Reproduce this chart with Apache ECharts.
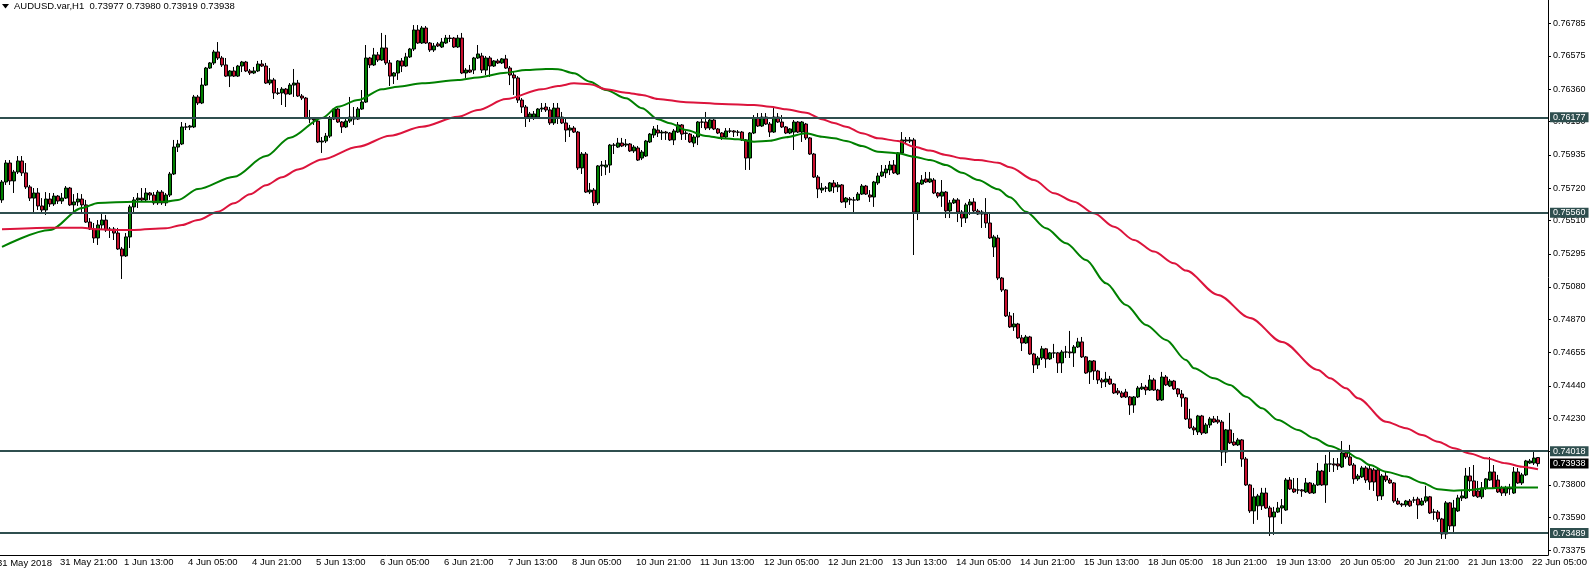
<!DOCTYPE html>
<html lang="en">
<head>
    <meta charset="UTF-8">
    <title>AUDUSD H1</title>
    <script src="https://cdn.jsdelivr.net/npm/echarts@6/dist/echarts.min.js"></script>
    <style>
        html, body { margin: 0; padding: 0; background: #fff; }
        #chart { width: 1591px; height: 571px; }
    </style>
</head>
<body>
<div id="chart"></div>
<script>
    // candles: [open, close, low, high], one per H1 bar from 31 May 07:00
    var candles = [
        [0.75643,0.75759,0.75624,0.75772],[0.75759,0.75882,0.75740,0.75901],[0.75882,0.75766,0.75740,0.75901],[0.75766,0.75824,0.75688,0.75837],
        [0.75824,0.75895,0.75811,0.75927],[0.75895,0.75818,0.75798,0.75927],[0.75818,0.75727,0.75714,0.75882],[0.75727,0.75655,0.75636,0.75740],
        [0.75655,0.75688,0.75559,0.75720],[0.75688,0.75604,0.75578,0.75720],[0.75604,0.75578,0.75559,0.75655],[0.75578,0.75649,0.75546,0.75694],
        [0.75649,0.75617,0.75598,0.75688],[0.75617,0.75668,0.75604,0.75688],[0.75668,0.75636,0.75617,0.75675],[0.75636,0.75655,0.75617,0.75688],
        [0.75655,0.75720,0.75649,0.75733],[0.75720,0.75611,0.75604,0.75727],[0.75611,0.75630,0.75565,0.75681],[0.75630,0.75649,0.75604,0.75688],
        [0.75649,0.75611,0.75559,0.75681],[0.75611,0.75500,0.75494,0.75643],[0.75500,0.75455,0.75449,0.75526],[0.75455,0.75397,0.75365,0.75494],
        [0.75397,0.75481,0.75352,0.75513],[0.75481,0.75513,0.75449,0.75559],[0.75513,0.75449,0.75436,0.75546],[0.75449,0.75455,0.75397,0.75468],
        [0.75455,0.75429,0.75384,0.75468],[0.75429,0.75326,0.75320,0.75462],[0.75326,0.75281,0.75132,0.75339],[0.75281,0.75404,0.75274,0.75429],
        [0.75404,0.75598,0.75332,0.75611],[0.75598,0.75643,0.75565,0.75662],[0.75643,0.75655,0.75591,0.75688],[0.75655,0.75643,0.75630,0.75720],
        [0.75643,0.75688,0.75630,0.75720],[0.75688,0.75675,0.75643,0.75694],[0.75675,0.75624,0.75611,0.75694],[0.75624,0.75694,0.75611,0.75707],
        [0.75694,0.75624,0.75611,0.75707],[0.75624,0.75675,0.75604,0.75688],[0.75675,0.75811,0.75662,0.75824],[0.75811,0.75985,0.75804,0.76031],
        [0.75985,0.76005,0.75953,0.76031],[0.76005,0.76115,0.75998,0.76147],[0.76115,0.76114,0.76095,0.76141],[0.76114,0.76121,0.76095,0.76128],
        [0.76115,0.76309,0.76108,0.76322],[0.76309,0.76270,0.76257,0.76322],[0.76270,0.76386,0.76263,0.76432],[0.76386,0.76496,0.76380,0.76503],
        [0.76496,0.76529,0.76490,0.76535],[0.76529,0.76600,0.76516,0.76613],[0.76600,0.76561,0.76548,0.76664],[0.76561,0.76516,0.76503,0.76574],
        [0.76516,0.76444,0.76438,0.76561],[0.76444,0.76477,0.76373,0.76483],[0.76477,0.76444,0.76438,0.76503],[0.76444,0.76509,0.76438,0.76516],
        [0.76509,0.76535,0.76470,0.76542],[0.76535,0.76477,0.76470,0.76542],[0.76477,0.76464,0.76451,0.76490],[0.76464,0.76477,0.76457,0.76503],
        [0.76477,0.76522,0.76470,0.76542],[0.76522,0.76509,0.76503,0.76548],[0.76509,0.76399,0.76393,0.76529],[0.76399,0.76419,0.76386,0.76496],
        [0.76419,0.76335,0.76296,0.76432],[0.76335,0.76332,0.76322,0.76367],[0.76335,0.76360,0.76257,0.76373],[0.76360,0.76328,0.76244,0.76367],
        [0.76328,0.76386,0.76322,0.76399],[0.76386,0.76399,0.76309,0.76490],[0.76399,0.76315,0.76309,0.76419],[0.76315,0.76302,0.76289,0.76328],
        [0.76302,0.76173,0.76166,0.76309],[0.76173,0.76166,0.76141,0.76225],[0.76166,0.76160,0.76128,0.76179],[0.76153,0.76018,0.76011,0.76160],
        [0.76018,0.76024,0.75947,0.76050],[0.76024,0.76056,0.76011,0.76076],[0.76056,0.76166,0.76044,0.76186],[0.76166,0.76231,0.76160,0.76237],
        [0.76231,0.76147,0.76141,0.76237],[0.76147,0.76115,0.76076,0.76153],[0.76115,0.76153,0.76108,0.76173],[0.76153,0.76179,0.76141,0.76309],
        [0.76179,0.76166,0.76128,0.76244],[0.76166,0.76231,0.76160,0.76244],[0.76231,0.76276,0.76225,0.76354],[0.76276,0.76561,0.76270,0.76645],
        [0.76561,0.76516,0.76496,0.76568],[0.76516,0.76581,0.76509,0.76626],[0.76581,0.76548,0.76535,0.76600],[0.76548,0.76626,0.76542,0.76723],
        [0.76626,0.76529,0.76516,0.76710],[0.76529,0.76444,0.76380,0.76548],[0.76444,0.76464,0.76393,0.76470],[0.76464,0.76542,0.76419,0.76548],
        [0.76542,0.76509,0.76470,0.76561],[0.76509,0.76568,0.76503,0.76594],[0.76568,0.76619,0.76561,0.76626],[0.76619,0.76742,0.76606,0.76774],
        [0.76742,0.76658,0.76652,0.76774],[0.76658,0.76755,0.76652,0.76768],[0.76755,0.76658,0.76652,0.76768],[0.76658,0.76613,0.76600,0.76664],
        [0.76613,0.76639,0.76600,0.76658],[0.76652,0.76639,0.76632,0.76664],[0.76632,0.76664,0.76626,0.76690],[0.76658,0.76690,0.76652,0.76710],
        [0.76690,0.76687,0.76664,0.76710],[0.76690,0.76632,0.76626,0.76697],[0.76632,0.76690,0.76626,0.76710],[0.76690,0.76464,0.76457,0.76723],
        [0.76464,0.76483,0.76432,0.76496],[0.76483,0.76470,0.76464,0.76516],[0.76483,0.76561,0.76457,0.76568],[0.76561,0.76587,0.76555,0.76645],
        [0.76574,0.76483,0.76464,0.76594],[0.76483,0.76561,0.76451,0.76574],[0.76561,0.76509,0.76438,0.76574],[0.76509,0.76542,0.76503,0.76548],
        [0.76542,0.76529,0.76522,0.76555],[0.76529,0.76555,0.76522,0.76561],[0.76555,0.76496,0.76490,0.76581],[0.76496,0.76451,0.76386,0.76509],
        [0.76451,0.76432,0.76322,0.76470],[0.76432,0.76289,0.76270,0.76444],[0.76289,0.76244,0.76205,0.76302],[0.76244,0.76179,0.76115,0.76257],
        [0.76179,0.76199,0.76147,0.76212],[0.76179,0.76199,0.76160,0.76218],[0.76179,0.76231,0.76173,0.76237],[0.76231,0.76237,0.76212,0.76270],
        [0.76244,0.76225,0.76212,0.76270],[0.76225,0.76141,0.76128,0.76244],[0.76141,0.76237,0.76128,0.76270],[0.76237,0.76179,0.76134,0.76270],
        [0.76179,0.76141,0.76134,0.76212],[0.76141,0.76095,0.76018,0.76179],[0.76095,0.76108,0.76050,0.76128],[0.76108,0.76082,0.76076,0.76121],
        [0.76082,0.75850,0.75837,0.76089],[0.75850,0.75940,0.75811,0.75953],[0.75940,0.75694,0.75688,0.75953],[0.75694,0.75707,0.75681,0.75753],
        [0.75707,0.75624,0.75604,0.75720],[0.75624,0.75863,0.75611,0.75869],[0.75863,0.75869,0.75798,0.75895],[0.75856,0.75869,0.75804,0.75901],
        [0.75869,0.75998,0.75818,0.76005],[0.75998,0.75997,0.75940,0.76011],[0.75985,0.76011,0.75979,0.76044],[0.76011,0.75992,0.75985,0.76044],
        [0.75998,0.76005,0.75985,0.76037],[0.76005,0.75960,0.75953,0.76011],[0.75960,0.75985,0.75947,0.75998],[0.75979,0.75901,0.75895,0.75992],
        [0.75914,0.75953,0.75901,0.75966],[0.75927,0.76024,0.75921,0.76031],[0.76018,0.76069,0.76011,0.76076],[0.76063,0.76102,0.76044,0.76121],
        [0.76095,0.76076,0.76050,0.76128],[0.76076,0.76082,0.76031,0.76095],[0.76082,0.76076,0.76031,0.76089],[0.76076,0.76031,0.76024,0.76082],
        [0.76031,0.76089,0.75998,0.76102],[0.76082,0.76128,0.76076,0.76147],[0.76128,0.76069,0.76031,0.76134],[0.76076,0.76073,0.76031,0.76089],
        [0.76069,0.76018,0.76011,0.76076],[0.76011,0.76050,0.75985,0.76063],[0.76050,0.76147,0.75998,0.76153],[0.76147,0.76146,0.76108,0.76173],
        [0.76147,0.76108,0.76095,0.76212],[0.76108,0.76160,0.76095,0.76166],[0.76160,0.76102,0.76095,0.76166],[0.76102,0.76076,0.76069,0.76108],
        [0.76076,0.76050,0.76031,0.76082],[0.76050,0.76089,0.76044,0.76108],[0.76089,0.76088,0.76076,0.76108],[0.76089,0.76082,0.76050,0.76095],
        [0.76082,0.76081,0.76056,0.76095],[0.76082,0.76031,0.76024,0.76089],[0.76031,0.75914,0.75837,0.76037],[0.75914,0.76076,0.75837,0.76082],
        [0.76076,0.76173,0.76069,0.76192],[0.76173,0.76121,0.76115,0.76205],[0.76121,0.76179,0.76115,0.76205],[0.76179,0.76134,0.76128,0.76205],
        [0.76134,0.76082,0.76050,0.76147],[0.76082,0.76179,0.76076,0.76237],[0.76179,0.76147,0.76141,0.76205],[0.76147,0.76115,0.76108,0.76192],
        [0.76115,0.76076,0.76069,0.76121],[0.76076,0.76102,0.76069,0.76108],[0.76082,0.76147,0.75966,0.76160],[0.76147,0.76082,0.76076,0.76153],
        [0.76082,0.76147,0.76018,0.76153],[0.76134,0.76044,0.76031,0.76141],[0.76044,0.75940,0.75934,0.76050],[0.75940,0.75791,0.75785,0.75947],
        [0.75791,0.75714,0.75655,0.75804],[0.75707,0.75720,0.75688,0.75753],[0.75720,0.75719,0.75694,0.75733],[0.75701,0.75753,0.75694,0.75759],
        [0.75753,0.75727,0.75688,0.75772],[0.75727,0.75740,0.75694,0.75759],[0.75740,0.75630,0.75624,0.75746],[0.75630,0.75655,0.75591,0.75662],
        [0.75649,0.75643,0.75611,0.75662],[0.75643,0.75642,0.75565,0.75662],[0.75643,0.75681,0.75636,0.75694],[0.75681,0.75733,0.75675,0.75746],
        [0.75733,0.75681,0.75675,0.75740],[0.75675,0.75662,0.75630,0.75707],[0.75662,0.75759,0.75598,0.75766],[0.75753,0.75798,0.75740,0.75818],
        [0.75798,0.75824,0.75791,0.75869],[0.75818,0.75843,0.75785,0.75869],[0.75837,0.75869,0.75804,0.75895],[0.75869,0.75818,0.75811,0.75901],
        [0.75811,0.75947,0.75804,0.75953],[0.75947,0.76031,0.75940,0.76082],[0.76031,0.76024,0.76011,0.76050],[0.76024,0.76031,0.76011,0.76050],
        [0.76031,0.75565,0.75287,0.76044],[0.75565,0.75753,0.75513,0.75759],[0.75746,0.75772,0.75740,0.75804],[0.75779,0.75759,0.75753,0.75824],
        [0.75759,0.75779,0.75753,0.75824],[0.75772,0.75688,0.75681,0.75785],[0.75688,0.75668,0.75655,0.75694],[0.75668,0.75694,0.75598,0.75772],
        [0.75694,0.75572,0.75526,0.75701],[0.75572,0.75624,0.75526,0.75643],[0.75624,0.75643,0.75617,0.75655],[0.75643,0.75565,0.75500,0.75655],
        [0.75565,0.75526,0.75468,0.75578],[0.75526,0.75611,0.75494,0.75624],[0.75611,0.75630,0.75546,0.75649],[0.75630,0.75572,0.75559,0.75655],
        [0.75572,0.75552,0.75546,0.75585],[0.75565,0.75552,0.75462,0.75578],[0.75552,0.75494,0.75462,0.75655],[0.75494,0.75397,0.75391,0.75552],
        [0.75339,0.75404,0.75274,0.75417],[0.75397,0.75138,0.75125,0.75417],[0.75138,0.75061,0.75048,0.75145],[0.75061,0.74893,0.74886,0.75067],
        [0.74893,0.74822,0.74815,0.74919],[0.74822,0.74841,0.74796,0.74912],[0.74841,0.74751,0.74744,0.74848],[0.74751,0.74718,0.74666,0.74770],
        [0.74718,0.74757,0.74712,0.74770],[0.74757,0.74647,0.74641,0.74764],[0.74647,0.74576,0.74524,0.74654],[0.74576,0.74621,0.74550,0.74634],
        [0.74621,0.74680,0.74608,0.74699],[0.74680,0.74615,0.74557,0.74686],[0.74615,0.74654,0.74608,0.74660],[0.74654,0.74653,0.74621,0.74712],
        [0.74654,0.74589,0.74524,0.74660],[0.74589,0.74660,0.74524,0.74673],[0.74660,0.74659,0.74621,0.74699],[0.74660,0.74654,0.74621,0.74796],
        [0.74654,0.74692,0.74563,0.74705],[0.74692,0.74725,0.74686,0.74751],[0.74725,0.74628,0.74621,0.74757],[0.74628,0.74524,0.74518,0.74634],
        [0.74531,0.74602,0.74453,0.74608],[0.74602,0.74537,0.74479,0.74608],[0.74537,0.74479,0.74453,0.74544],[0.74479,0.74466,0.74427,0.74492],
        [0.74466,0.74485,0.74433,0.74531],[0.74485,0.74453,0.74447,0.74505],[0.74453,0.74395,0.74388,0.74459],[0.74408,0.74395,0.74382,0.74427],
        [0.74395,0.74369,0.74362,0.74408],[0.74401,0.74369,0.74362,0.74421],[0.74369,0.74317,0.74253,0.74375],[0.74317,0.74369,0.74266,0.74375],
        [0.74369,0.74427,0.74362,0.74440],[0.74421,0.74433,0.74414,0.74459],[0.74433,0.74414,0.74382,0.74447],[0.74414,0.74479,0.74408,0.74511],
        [0.74479,0.74414,0.74408,0.74492],[0.74414,0.74350,0.74343,0.74421],[0.74350,0.74498,0.74343,0.74531],[0.74498,0.74447,0.74440,0.74511],
        [0.74440,0.74472,0.74433,0.74485],[0.74472,0.74421,0.74414,0.74479],[0.74421,0.74388,0.74369,0.74427],[0.74388,0.74363,0.74305,0.74414],
        [0.74363,0.74227,0.74220,0.74369],[0.74227,0.74169,0.74162,0.74292],[0.74169,0.74156,0.74123,0.74182],[0.74143,0.74246,0.74123,0.74253],
        [0.74246,0.74136,0.74123,0.74253],[0.74136,0.74188,0.74130,0.74201],[0.74188,0.74227,0.74169,0.74240],[0.74227,0.74207,0.74201,0.74246],
        [0.74220,0.74207,0.74195,0.74246],[0.74207,0.74013,0.73923,0.74220],[0.74013,0.74156,0.73942,0.74162],[0.74156,0.74072,0.74065,0.74266],
        [0.74078,0.74059,0.74052,0.74136],[0.74059,0.74091,0.74052,0.74104],[0.74091,0.73968,0.73917,0.74097],[0.73968,0.73800,0.73794,0.73981],
        [0.73800,0.73632,0.73619,0.73807],[0.73632,0.73723,0.73548,0.73781],[0.73665,0.73729,0.73574,0.73742],[0.73665,0.73748,0.73638,0.73781],
        [0.73748,0.73651,0.73645,0.73781],[0.73651,0.73593,0.73470,0.73665],[0.73593,0.73625,0.73477,0.73658],[0.73625,0.73651,0.73619,0.73690],
        [0.73651,0.73665,0.73548,0.73709],[0.73638,0.73832,0.73632,0.73845],[0.73832,0.73774,0.73768,0.73851],[0.73774,0.73755,0.73748,0.73845],
        [0.73768,0.73767,0.73742,0.73845],[0.73768,0.73761,0.73723,0.73774],[0.73755,0.73813,0.73748,0.73845],[0.73813,0.73748,0.73742,0.73819],
        [0.73748,0.73800,0.73742,0.73813],[0.73800,0.73890,0.73794,0.73942],[0.73890,0.73800,0.73794,0.73897],[0.73800,0.73936,0.73684,0.73994],
        [0.73936,0.73935,0.73884,0.74020],[0.73936,0.73929,0.73884,0.73974],[0.73936,0.73923,0.73897,0.73974],[0.73916,0.74007,0.73910,0.74084],
        [0.74007,0.73981,0.73968,0.74026],[0.73981,0.73929,0.73923,0.74059],[0.73929,0.73839,0.73807,0.73942],[0.73839,0.73858,0.73826,0.73871],
        [0.73852,0.73910,0.73845,0.73923],[0.73910,0.73832,0.73813,0.73923],[0.73904,0.73819,0.73768,0.73929],[0.73897,0.73819,0.73761,0.73910],
        [0.73897,0.73729,0.73696,0.73910],[0.73729,0.73858,0.73703,0.73871],[0.73858,0.73832,0.73819,0.73884],[0.73832,0.73813,0.73807,0.73845],
        [0.73813,0.73696,0.73684,0.73819],[0.73696,0.73677,0.73671,0.73716],[0.73677,0.73671,0.73658,0.73684],[0.73671,0.73696,0.73658,0.73703],
        [0.73696,0.73665,0.73658,0.73709],[0.73703,0.73702,0.73684,0.73723],[0.73709,0.73671,0.73580,0.73723],[0.73671,0.73696,0.73665,0.73716],
        [0.73696,0.73723,0.73684,0.73794],[0.73723,0.73619,0.73612,0.73729],[0.73625,0.73624,0.73574,0.73645],[0.73625,0.73580,0.73561,0.73638],
        [0.73580,0.73483,0.73451,0.73587],[0.73483,0.73684,0.73451,0.73696],[0.73684,0.73535,0.73509,0.73690],[0.73535,0.73651,0.73496,0.73703],
        [0.73632,0.73716,0.73625,0.73736],[0.73716,0.73729,0.73696,0.73768],[0.73716,0.73858,0.73709,0.73910],[0.73858,0.73826,0.73755,0.73916],
        [0.73826,0.73729,0.73723,0.73929],[0.73761,0.73723,0.73716,0.73826],[0.73723,0.73781,0.73709,0.73819],[0.73781,0.73839,0.73768,0.73845],
        [0.73832,0.73884,0.73826,0.73981],[0.73884,0.73781,0.73774,0.73929],[0.73832,0.73755,0.73748,0.73865],[0.73781,0.73748,0.73729,0.73794],
        [0.73748,0.73781,0.73729,0.73794],[0.73781,0.73774,0.73736,0.73807],[0.73748,0.73884,0.73742,0.73916],[0.73884,0.73813,0.73807,0.73910],
        [0.73813,0.73865,0.73800,0.73878],[0.73865,0.73955,0.73858,0.73962],[0.73942,0.73955,0.73936,0.73968],[0.73942,0.73974,0.73929,0.74026],
        [0.73977,0.73938,0.73919,0.73980]
    ];

    // moving averages: [bar index, price]
    var maFast = [[0,0.75339],[12,0.75449],[20,0.75591],[24,0.75624],[33,0.75632],[41,0.75632],[44,0.75643],[49,0.75714],[58,0.75793],
        [66,0.75927],[72,0.76046],[80,0.76173],[84,0.76246],[89,0.76289],[95,0.76359],[99,0.76375],[105,0.76397],[114,0.76419],[119,0.76435],
        [126,0.76466],[131,0.76483],[136,0.76490],[139,0.76488],[143,0.76462],[147,0.76408],[151,0.76354],[156,0.76300],[160,0.76236],
        [164,0.76165],[167,0.76139],[171,0.76095],[176,0.76057],[180,0.76042],[184,0.76035],[188,0.76020],[192,0.76026],[196,0.76048],
        [201,0.76074],[205,0.76052],[208,0.76042],[211,0.76024],[215,0.75992],[219,0.75955],[224,0.75945],[228,0.75923],[232,0.75901],
        [236,0.75869],[240,0.75819],[244,0.75772],[249,0.75712],[252,0.75660],[256,0.75567],[261,0.75460],[266,0.75363],[271,0.75255],
        [276,0.75104],[281,0.74964],[286,0.74835],[291,0.74738],[296,0.74608],[298,0.74555],[303,0.74490],[307,0.74447],[311,0.74371],
        [315,0.74296],[319,0.74220],[324,0.74156],[328,0.74102],[332,0.74052],[336,0.74015],[339,0.73973],[342,0.73929],[346,0.73886],
        [351,0.73854],[355,0.73815],[359,0.73772],[363,0.73763],[367,0.73768],[371,0.73779],[376,0.73783],[384,0.73783]];
    var maSlow = [[0,0.75453],[12,0.75464],[20,0.75464],[24,0.75453],[29,0.75449],[33,0.75449],[41,0.75460],[45,0.75481],[49,0.75513],
        [54,0.75567],[58,0.75621],[62,0.75680],[66,0.75738],[70,0.75790],[74,0.75840],[80,0.75905],[89,0.75987],[97,0.76058],[105,0.76117],
        [114,0.76181],[119,0.76225],[126,0.76295],[135,0.76359],[139,0.76380],[143,0.76397],[147,0.76391],[151,0.76359],[156,0.76337],
        [160,0.76322],[164,0.76296],[171,0.76275],[180,0.76264],[188,0.76257],[192,0.76246],[196,0.76229],[201,0.76207],[205,0.76165],
        [208,0.76141],[211,0.76117],[215,0.76074],[219,0.76042],[224,0.76024],[228,0.75987],[232,0.75962],[236,0.75934],[240,0.75912],
        [244,0.75901],[249,0.75884],[252,0.75854],[258,0.75772],[263,0.75686],[268,0.75632],[273,0.75557],[278,0.75470],[283,0.75384],
        [288,0.75309],[293,0.75233],[296,0.75186],[304,0.75029],[312,0.74880],[320,0.74725],[329,0.74544],[332,0.74490],[336,0.74425],
        [339,0.74361],[346,0.74209],[351,0.74167],[355,0.74123],[359,0.74080],[363,0.74037],[367,0.74004],[371,0.73972],[376,0.73940],
        [380,0.73918],[384,0.73901]];

    var levels = [0.76177, 0.75560, 0.74018, 0.73489];
    var bidPrice = 0.73938;
    var yTicks = [0.76785, 0.76575, 0.76360, 0.76150, 0.75935, 0.75720, 0.75510, 0.75295, 0.75080,
        0.74870, 0.74655, 0.74440, 0.74230, 0.74015, 0.73800, 0.73590, 0.73375];
    var titleText = 'AUDUSD.var,H1  0.73977 0.73980 0.73919 0.73938';
    var firstDateLabel = '31 May 2018';

    // hourly bar times, Sunday 21:00 .. Friday 20:00 sessions
    var MONTHS = ['Jan','Feb','Mar','Apr','May','Jun','Jul','Aug','Sep','Oct','Nov','Dec'];
    var times = [];
    var t = Date.UTC(2018, 4, 31, 7);
    while (times.length < candles.length + 2) {
        var d = new Date(t), wd = d.getUTCDay(), h = d.getUTCHours();
        var open = !(wd === 6 || (wd === 5 && h > 20) || (wd === 0 && h < 21));
        if (open) times.push(d.getUTCDate() + ' ' + MONTHS[d.getUTCMonth()] + ' ' + (h < 10 ? '0' + h : h) + ':00');
        t += 3600000;
    }

    function showLabel(i) { return i >= 14 && (i - 14) % 16 === 0; }
    var FONT = '"Liberation Sans", Arial, sans-serif';

    var tagLines = levels.map(function (v) {
        return {yAxis: v, label: {backgroundColor: '#2f4f4f'}};
    });
    tagLines.push({yAxis: bidPrice, lineStyle: {color: 'rgba(0,0,0,0)'}, label: {backgroundColor: '#000', color: '#fff'}});

    var chart = echarts.init(document.getElementById('chart'), null, {renderer: 'canvas'});
    chart.setOption({
        animation: false,
        backgroundColor: '#fff',
        grid: {left: 0, right: 43, top: 0, bottom: 16},
        graphic: [
            {type: 'polygon', shape: {points: [[2, 4], [9, 4], [5.5, 8.5]]}, style: {fill: '#000'}},
            {type: 'text', left: 14, top: 1, style: {text: titleText, font: '9.5px ' + FONT, fill: '#000'}},
            {type: 'text', left: -3, top: 558, style: {text: firstDateLabel, font: '9.5px ' + FONT, fill: '#000'}}
        ],
        xAxis: {
            type: 'category',
            data: times,
            boundaryGap: true,
            axisLine: {lineStyle: {color: '#000', width: 1}},
            axisTick: {alignWithLabel: true, length: 3, interval: function (i) { return showLabel(i); }, lineStyle: {color: '#000'}},
            axisLabel: {
                interval: function (i) { return showLabel(i); },
                align: 'left', padding: [0, 0, 0, 2], margin: 2,
                fontSize: 9.5, fontFamily: FONT, color: '#000'
            },
            splitLine: {show: false}
        },
        yAxis: {
            type: 'value',
            position: 'right',
            min: 0.73347,
            max: 0.76936,
            axisLine: {show: true, lineStyle: {color: '#000', width: 1}},
            axisTick: {show: true, length: 3, customValues: yTicks, lineStyle: {color: '#000'}},
            axisLabel: {
                customValues: yTicks, margin: 5,
                formatter: function (v) { return v.toFixed(5); },
                fontSize: 9, fontFamily: FONT, color: '#000'
            },
            splitLine: {show: false}
        },
        series: [
            {
                type: 'candlestick',
                data: candles,
                barWidth: 3,
                itemStyle: {
                    color: '#008000', color0: '#c8102e',
                    borderColor: '#000', borderColor0: '#000', borderColorDoji: '#000', borderWidth: 1
                }
            },
            {
                type: 'line', data: maFast, showSymbol: false, smooth: 0.3, smoothMonotone: 'x',
                lineStyle: {color: '#008000', width: 2}, z: 3
            },
            {
                type: 'line', data: maSlow, showSymbol: false, smooth: 0.3, smoothMonotone: 'x',
                lineStyle: {color: '#dc143c', width: 2}, z: 3,
                markLine: {
                    silent: true, symbol: ['none', 'none'], z: 5, precision: 5,
                    lineStyle: {color: '#2f4f4f', width: 2, type: 'solid'},
                    label: {
                        show: true, position: 'end', distance: 2, padding: [1, 3, 0, 3],
                        color: '#fff', fontSize: 9, fontFamily: FONT,
                        formatter: function (p) { return Number(p.value).toFixed(5); }
                    },
                    data: tagLines
                }
            }
        ]
    });
</script>
</body>
</html>
